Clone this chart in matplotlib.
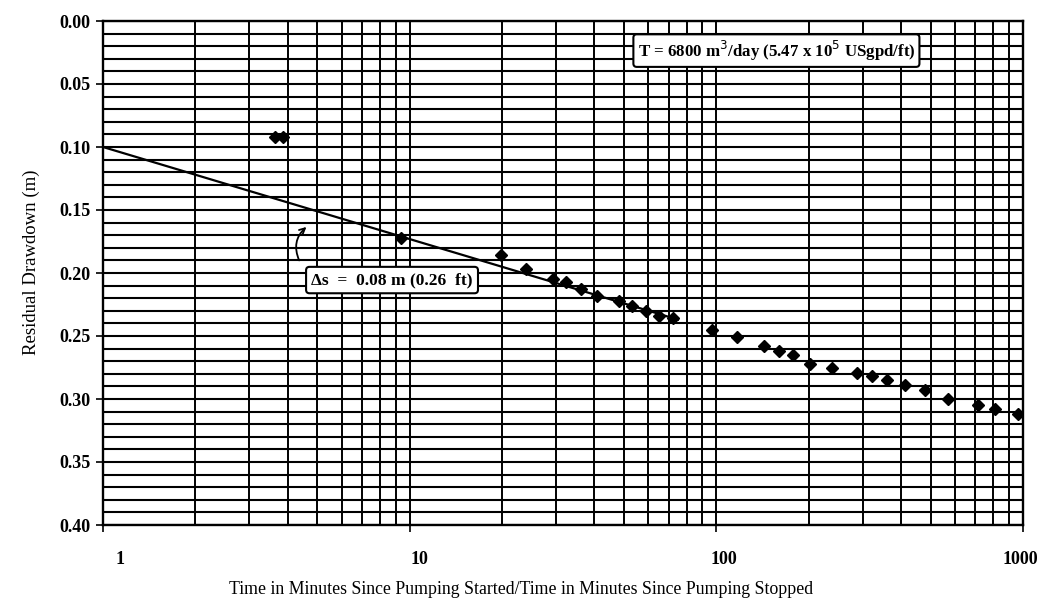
import matplotlib
matplotlib.use("Agg")
import matplotlib.pyplot as plt
import matplotlib.transforms as mtransforms
import numpy as np

# ---- data ----
time_ratio = [3.65, 3.85, 9.4, 19.9, 23.9, 29.3, 32.3, 36.1, 40.7, 48, 53, 59, 65, 72,
              97, 117, 143, 160, 178, 202, 238, 287, 321, 360, 412, 479, 569, 713, 810, 962]
residual_dd = [0.092, 0.092, 0.172, 0.186, 0.197, 0.205, 0.207, 0.213, 0.218, 0.222, 0.226,
               0.230, 0.234, 0.236, 0.245, 0.251, 0.258, 0.262, 0.265, 0.272, 0.275, 0.279,
               0.282, 0.285, 0.289, 0.293, 0.300, 0.305, 0.308, 0.312]
fit_x = [1, 75]
fit_y = [0.100, 0.237]
xtick_vals = [1, 10, 100, 1000]
xtick_labels = ["1", "10", "100", "1000"]
ytick_vals = [0.00, 0.05, 0.10, 0.15, 0.20, 0.25, 0.30, 0.35, 0.40]
ytick_labels = ["0.00", "0.05", "0.10", "0.15", "0.20", "0.25", "0.30", "0.35", "0.40"]
t_text = "T = 6800 m$^3$/day (5.47 x 10$^5$ USgpd/ft)"
ds_text = "Δs  =  0.08 m (0.26  ft)"
xlabel = "Time in Minutes Since Pumping Started/Time in Minutes Since Pumping Stopped"
ylabel = "Residual Drawdown (m)"

W, H = 1046, 606
fig = plt.figure(figsize=(W / 100, H / 100), dpi=100)
ax = fig.add_axes([103 / W, 1 - 525 / H, (1023 - 103) / W, (525 - 21) / H])

ax.set_xscale("log")
ax.set_xlim(1, 1000)
ax.set_ylim(0.40, 0.00)

# grid lines
for d in [1, 10, 100]:
    for m in range(1, 10):
        ax.axvline(d * m, color="black", lw=1.4, zorder=1)
ax.axvline(1000, color="black", lw=1.4, zorder=1)
for v in np.arange(0, 41) / 100:
    ax.axhline(v, color="black", lw=1.5, zorder=1)

for s in ax.spines.values():
    s.set_linewidth(1.7)
    s.set_color("black")

ax.set_xticks(xtick_vals)
ax.set_xticklabels(xtick_labels)
ax.xaxis.set_minor_locator(matplotlib.ticker.NullLocator())
ax.set_yticks(ytick_vals)
ax.set_yticklabels(ytick_labels)
ax.tick_params(axis="both", direction="out", length=5, width=1.2, color="black")
ax.tick_params(axis="x", pad=14)
ax.tick_params(axis="y", pad=4)
for lab in ax.get_xticklabels() + ax.get_yticklabels():
    lab.set_fontfamily("Liberation Serif")
    lab.set_fontweight("bold")
    lab.set_fontsize(13)
# shift x labels as in reference
xl = ax.get_xticklabels()
offs = [17, 10, 8, -3]
for lab, o in zip(xl, offs):
    lab.set_transform(lab.get_transform() + mtransforms.ScaledTranslation(o / 100, 0, fig.dpi_scale_trans))

ax.set_xlabel(xlabel, fontfamily="Liberation Serif", fontsize=12.8, labelpad=9)
ax.xaxis.label.set_x((521 - 103) / 920)
ax.set_ylabel(ylabel, fontfamily="Liberation Serif", fontsize=13.5, labelpad=14)
ax.yaxis.label.set_y(1 - (262 - 21) / 504)

# fitted line and data
ax.plot(fit_x, fit_y, color="black", lw=1.6, zorder=3)
ax.plot(time_ratio, residual_dd, linestyle="none", marker="D", markersize=5.8,
        color="black", zorder=4)

# annotations
ax.text(157, 0.0235, t_text, ha="center", va="center", fontfamily="Liberation Serif",
        fontweight="bold", fontsize=12.2, zorder=5,
        bbox=dict(boxstyle="round,pad=0.25,rounding_size=0.2", fc="white", ec="black", lw=1.5))
ax.text(8.76, 0.2056, ds_text, ha="center", va="center", fontfamily="Liberation Serif",
        fontweight="bold", fontsize=12.5, zorder=5,
        bbox=dict(boxstyle="round,pad=0.3,rounding_size=0.2", fc="white", ec="black", lw=1.5))
ax.annotate("", xy=(4.68, 0.162), xytext=(4.40, 0.192),
            arrowprops=dict(arrowstyle="->", color="black", lw=1.3,
                            connectionstyle="arc3,rad=-0.4"), zorder=5)

fig.savefig("out.png", dpi=100, facecolor="white")
